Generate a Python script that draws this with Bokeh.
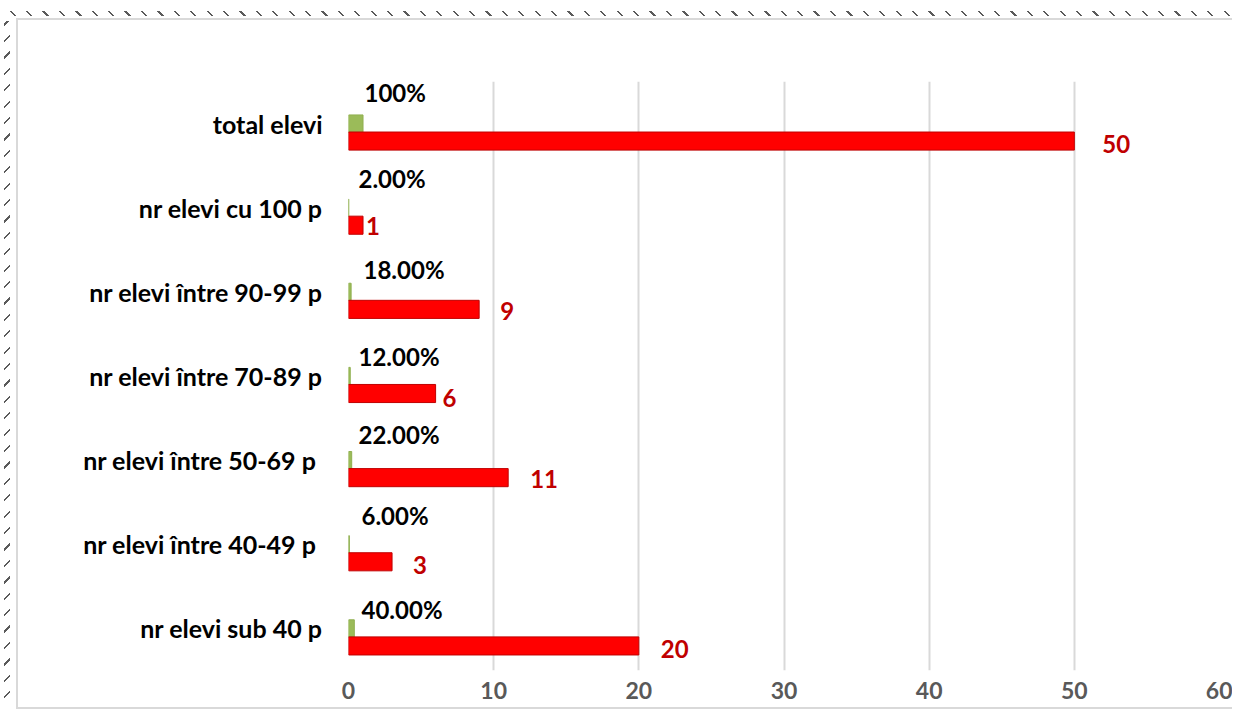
from bokeh.plotting import figure
from bokeh.models import ColumnDataSource, Range1d, FixedTicker
from bokeh.transform import dodge
from bokeh.core.properties import value
from bokeh.embed import file_html
from bokeh.resources import INLINE

# ---- data (bottom to top) ----
categories = ["nr elevi sub 40 p", "nr elevi între  40-49 p", "nr elevi între  50-69 p",
              "nr elevi între 70-89 p", "nr elevi între 90-99 p", "nr elevi cu 100 p", "total elevi"]
counts = [20, 3, 11, 6, 9, 1, 50]
shares = [0.40, 0.06, 0.22, 0.12, 0.18, 0.02, 1.00]
pct_labels = ["40.00%", "6.00%", "22.00%", "12.00%", "18.00%", "2.00%", "100%"]
count_labels = [str(c) for c in counts]
x_ticks = [0, 10, 20, 30, 40, 50, 60]

# label nudges (screen px), as placed by hand in the original
pct_dx = [13, 13, 10, 10, 15, 10, 16]
pct_dy = [-19, -29, -26, -20, -22, -29, -31]
cnt_dx = [22, 21, 22, 7, 21, 3, 28]
cnt_dy = [21, 21, 19, 22, 19, 18, 20]

FONT = value("Lato")

src = ColumnDataSource(dict(cat=categories, counts=counts, shares=shares,
                            pct=pct_labels, cnt=count_labels,
                            pdx=pct_dx, pdy=pct_dy, cdx=cnt_dx, cdy=cnt_dy,
                            zero=[0] * len(categories)))

p = figure(y_range=categories, x_range=Range1d(0, 60), width=1232, height=709,
           min_border_left=348, min_border_right=13, min_border_top=81, min_border_bottom=39,
           output_backend="svg", toolbar_location=None)
p.outline_line_color = None
p.background_fill_color = "white"
p.border_fill_color = None

# bars
p.hbar(y=dodge("cat", 0.0, range=p.y_range), left=0, right="shares", height=0.205,
       fill_color="#9BBB59", line_color="#8FAF4F", line_width=1, source=src)
p.hbar(y=dodge("cat", -0.208, range=p.y_range), left=0, right="counts", height=0.215,
       fill_color="#FF0000", line_color="#C00000", line_width=1, source=src)

# labels
p.text(x="zero", y="cat", text="pct", x_offset="pdx", y_offset="pdy", source=src,
       text_font=FONT, text_font_style="bold", text_font_size="24px", text_color="black",
       text_align="left", text_baseline="middle")
p.text(x="counts", y="cat", text="cnt", x_offset="cdx", y_offset="cdy", source=src,
       text_font=FONT, text_font_style="bold", text_font_size="24px", text_color="#C00000",
       text_align="left", text_baseline="middle")

# axes
p.xaxis.ticker = FixedTicker(ticks=x_ticks)
p.xaxis.axis_line_color = None
p.xaxis.major_tick_line_color = None
p.xaxis.minor_tick_line_color = None
p.xaxis.major_tick_out = 0
p.xaxis.major_label_standoff = 11
p.xaxis.major_label_text_font = "Lato"
p.xaxis.major_label_text_font_style = "bold"
p.xaxis.major_label_text_font_size = "23px"
p.xaxis.major_label_text_color = "#595959"

p.yaxis.axis_line_color = None
p.yaxis.major_tick_line_color = None
p.yaxis.minor_tick_line_color = None
p.yaxis.major_tick_out = 0
p.yaxis.major_label_standoff = 26
p.yaxis.major_label_text_font = "Lato"
p.yaxis.major_label_text_font_style = "bold"
p.yaxis.major_label_text_font_size = "25px"
p.yaxis.major_label_text_color = "black"

p.ygrid.grid_line_color = None
p.xgrid.grid_line_color = "#D9D9D9"
p.xgrid.grid_line_width = 2

# chart-area frame with the hatched edge of the original (pure CSS decoration)
line = "linear-gradient(#D9D9D9, #D9D9D9)"
hatch_bs = ("repeating-linear-gradient(45deg, rgba(0,0,0,0) 0px, rgba(0,0,0,0) 10px, "
            "#5A5A5A 10px, #5A5A5A 11.6px)")
hatch_fs = ("repeating-linear-gradient(-45deg, rgba(0,0,0,0) 0px, rgba(0,0,0,0) 10px, "
            "#5A5A5A 10px, #5A5A5A 11.6px)")
p.styles = {
    "background": ", ".join([
        f"{line} 16px 18px / 1216px 2px no-repeat",
        f"{line} 16px 18px / 2px 690px no-repeat",
        f"{line} 16px 707px / 1216px 2px no-repeat",
        f"{hatch_bs} 0px 11px / 1232px 5px no-repeat",
        f"{hatch_fs} 4px 21px / 6px 686px no-repeat",
        "white",
    ])
}

open("out.html", "w").write(file_html(p, INLINE))
